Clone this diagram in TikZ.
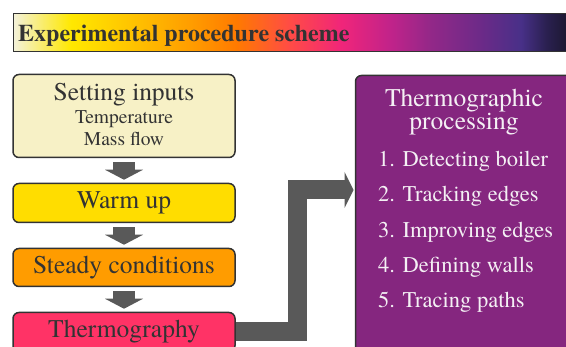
\documentclass[tikz,border=0pt]{standalone}
\usepackage{fontspec}
\IfFontExistsTF{texgyretermes-regular.otf}{%
  \newfontfamily\tnr{texgyretermes}[Extension=.otf, UprightFont=*-regular, BoldFont=*-bold]%
}{%
  \newfontfamily\tnr{DejaVu Serif}%
}
\usetikzlibrary{arrows.meta}
\definecolor{g1}{HTML}{F3F1DA}
\definecolor{g2}{HTML}{FFE800}
\definecolor{g3}{HTML}{FFC400}
\definecolor{g4}{HTML}{FF9C00}
\definecolor{g5}{HTML}{FF7A00}
\definecolor{g6}{HTML}{FF4A48}
\definecolor{g7}{HTML}{F0257A}
\definecolor{g8}{HTML}{C0238A}
\definecolor{g9}{HTML}{922888}
\definecolor{g10}{HTML}{6C2A88}
\definecolor{g11}{HTML}{483088}
\definecolor{g12}{HTML}{2A2050}
\definecolor{g13}{HTML}{1C1830}
\pgfdeclarehorizontalshading{titlegrad}{100bp}{color(0bp)=(g1); color(25bp)=(g1); color(30.2bp)=(g2); color(35.6bp)=(g3); color(41.1bp)=(g4); color(45.1bp)=(g5); color(50.1bp)=(g6); color(54.6bp)=(g7); color(59.1bp)=(g8); color(62.7bp)=(g9); color(67.2bp)=(g10); color(70.8bp)=(g11); color(73.1bp)=(g12); color(75bp)=(g13); color(100bp)=(g13)}
\definecolor{boxline}{HTML}{333333}
\definecolor{txt}{HTML}{333333}
\definecolor{cinput}{HTML}{F7F1C6}
\definecolor{cwarm}{HTML}{FFDD00}
\definecolor{csteady}{HTML}{FF9C00}
\definecolor{cthermo}{HTML}{FF3366}
\definecolor{cpurp}{HTML}{85267F}
\definecolor{conn}{HTML}{595959}
\definecolor{ptxt}{HTML}{F4F0F4}
\begin{document}
\begin{tikzpicture}[x=1pt,y=-1pt,
  box/.style={draw=boxline, line width=1.5pt, rounded corners=6pt, minimum width=222pt,
    inner sep=0pt, text=txt, font=\tnr\fontsize{25.5}{28}\selectfont},
  bigtxt/.style={text=txt, font=\tnr\fontsize{25.5}{28}\selectfont, inner sep=0pt, anchor=base},
  smalltxt/.style={text=txt, font=\tnr\fontsize{19.5}{22}\selectfont, inner sep=0pt, anchor=base},
  ptitle/.style={text=ptxt, font=\tnr\fontsize{25.5}{28}\selectfont, inner sep=0pt, anchor=base},
  pitem/.style={text=ptxt, font=\tnr\fontsize{22.5}{25}\selectfont, inner sep=0pt, anchor=base west},
  smallarr/.style={draw=conn, line width=22pt, -{Triangle[length=10pt,width=38pt,line width=0pt]},
    shorten <=4pt, shorten >=3pt},
  bigconn/.style={draw=conn, line width=19pt, line join=miter,
    -{Triangle[length=9pt,width=36pt,line width=0pt]}}
]
\clip (0,0) rectangle (566,347);
% title bar
\node[draw=boxline, line width=1.5pt, shading=titlegrad, minimum width=554pt, minimum height=38pt,
  inner sep=0pt, anchor=north west] (titlebar) at (12.75,12.75) {};
\node[text=txt, font=\tnr\fontsize{24}{28}\selectfont\bfseries, inner sep=0pt, anchor=base west]
  (title) at (18,42) {Experimental procedure scheme};
% left boxes
\node[box, fill=cinput, minimum height=83pt] (inputs) at (124,116) {};
\node[bigtxt] (inputsT) at (124,101) {Setting inputs};
\node[smalltxt] (temp) at (124,124) {Temperature};
\node[smalltxt] (mass) at (124,146) {Mass flow};
\node[box, fill=cwarm, minimum height=39pt] (warm) at (124,203) {Warm up};
\node[box, fill=csteady, minimum height=38pt] (steady) at (124,267.5) {Steady conditions};
\node[box, fill=cthermo, minimum height=39pt] (thermo) at (124,332) {Thermography};
% right box
\node[box, fill=cpurp, minimum width=240pt, minimum height=300pt, anchor=north west]
  (proc) at (354.75,74.75) {};
\node[ptitle] (procT1) at (464,107) {Thermographic};
\node[ptitle] (procT2) at (464,130) {processing};
\node[pitem] (it1) at (378,167) {1. Detecting boiler};
\node[pitem] (it2) at (378,202) {2. Tracking edges};
\node[pitem] (it3) at (378,238) {3. Improving edges};
\node[pitem] (it4) at (378,273) {4. Defining walls};
\node[pitem] (it5) at (378,308) {5. Tracing paths};
% arrows
\draw[smallarr] (inputs.south) -- (warm.north);
\draw[smallarr] (warm.south) -- (steady.north);
\draw[smallarr] (steady.south) -- (thermo.north);
\coordinate (bend) at (297,190);
\coordinate (tip) at (353.5,190);
\draw[bigconn] (thermo.east) -| (bend) -- (tip);
\end{tikzpicture}
\end{document}
